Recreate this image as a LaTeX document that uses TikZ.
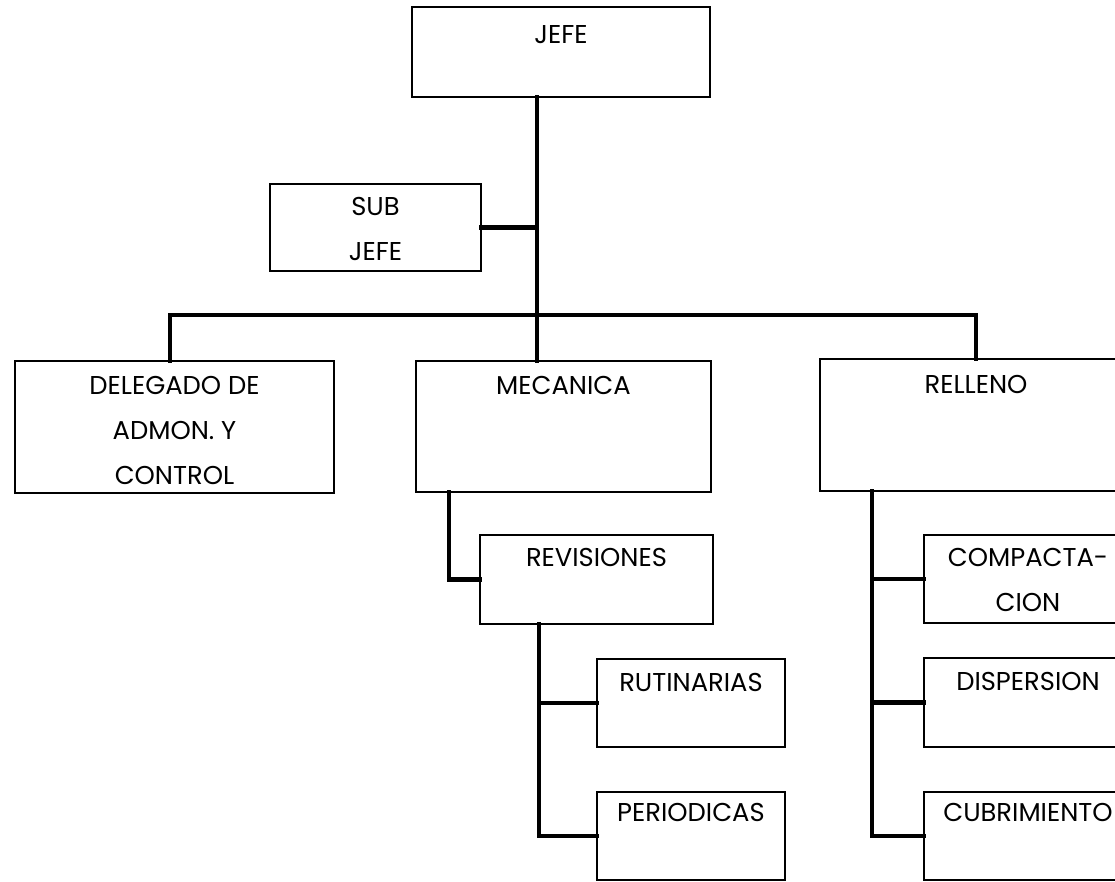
\documentclass[tikz,border=0pt]{standalone}
\usepackage{fontspec}
\setmainfont{Poppins}
\begin{document}
\begin{tikzpicture}[x=1pt,y=-1pt,
  unitbox/.style n args={2}{draw=black, line width=2.5pt, minimum width=#1, minimum height=#2,
    inner sep=0pt, outer sep=0pt},
  boxtext/.style={anchor=north, inner sep=0pt, align=center, text=black,
    font=\fontsize{25.8}{45}\selectfont},
  conn/.style={draw=black, line width=4.8pt, line cap=rect}]
\useasboundingbox (0,0) rectangle (1115,881);
\clip (0,0) rectangle (1115,881);
\fill[white] (0,0) rectangle (1115,881);

% boxes
\node[unitbox={298pt}{90pt}]  (jefe)  at (561,52)     {};
\node[unitbox={211pt}{87pt}]  (sub)   at (375.5,227.5) {};
\node[unitbox={319pt}{132pt}] (deleg) at (174.5,427)  {};
\node[unitbox={295pt}{131pt}] (mec)   at (563.5,426.5) {};
\node[unitbox={312pt}{132pt}] (rel)   at (976,425)    {};
\node[unitbox={233pt}{89pt}]  (rev)   at (596.5,579.5) {};
\node[unitbox={188pt}{88pt}]  (rut)   at (691,703)    {};
\node[unitbox={188pt}{88pt}]  (per)   at (691,836)    {};
\node[unitbox={208pt}{88pt}]  (comp)  at (1028,579)   {};
\node[unitbox={208pt}{89pt}]  (disp)  at (1028,702.5) {};
\node[unitbox={208pt}{88pt}]  (cub)   at (1028,836)   {};

% captions, set at the top of each box
\node[boxtext] (jefe-t)  at ([yshift=-18pt]jefe.north)  {JEFE};
\node[boxtext] (sub-t)   at ([yshift=-13pt]sub.north)   {SUB\\JEFE};
\node[boxtext] (deleg-t) at ([yshift=-15pt]deleg.north) {DELEGADO DE\\ADMON. Y\\CONTROL};
\node[boxtext] (mec-t)   at ([yshift=-15pt]mec.north)   {MECANICA};
\node[boxtext] (rel-t)   at ([yshift=-16pt]rel.north)   {RELLENO};
\node[boxtext] (rev-t)   at ([yshift=-13pt]rev.north)   {REVISIONES};
\node[boxtext] (rut-t)   at ([yshift=-14pt]rut.north)   {RUTINARIAS};
\node[boxtext] (per-t)   at ([yshift=-11pt]per.north)   {PERIODICAS};
\node[boxtext] (comp-t)  at ([yshift=-13pt]comp.north)  {COMPACTA-\\CION};
\node[boxtext] (disp-t)  at ([yshift=-14pt]disp.north)  {DISPERSION};
\node[boxtext] (cub-t)   at ([yshift=-11pt]cub.north)   {CUBRIMIENTO};

% junction points of the connectors
\coordinate (trunk) at (537,315);
\coordinate (ldrop) at (170,315);
\coordinate (rdrop) at (976,315);
\coordinate (mecx)  at (449,0);
\coordinate (revx)  at (539,0);
\coordinate (relx)  at (872,0);

% connectors
\draw[conn] (jefe.south -| trunk) -- (mec.north -| trunk);
\draw[conn] (sub.east) -- (sub.east -| trunk);
\draw[conn] (deleg.north -| ldrop) -- (ldrop) -- (rdrop) -- (rel.north -| rdrop);
\draw[conn] (mec.south -| mecx) |- (rev.west);
\draw[conn] (rev.south -| revx) |- (per.west);
\draw[conn] (rut.west) -- (rut.west -| revx);
\draw[conn] (rel.south -| relx) |- (cub.west);
\draw[conn] (comp.west) -- (comp.west -| relx);
\draw[conn] (disp.west) -- (disp.west -| relx);
\end{tikzpicture}
\end{document}
